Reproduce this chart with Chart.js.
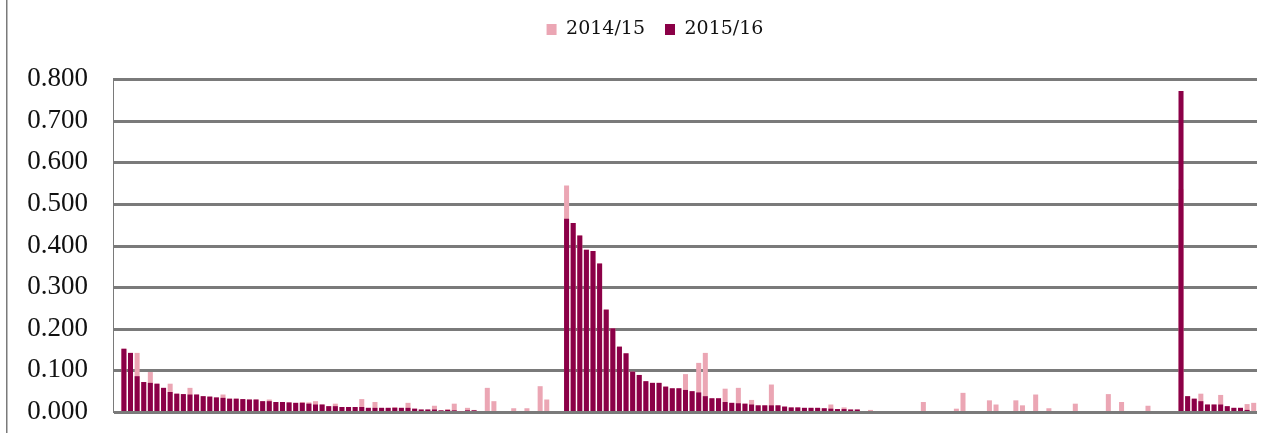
<!DOCTYPE html>
<html>
<head>
<meta charset="utf-8">
<script src="https://cdn.jsdelivr.net/npm/chart.js@4.4.1/dist/chart.umd.min.js"></script>
<style>
  html, body { margin: 0; padding: 0; background: #fff; overflow: hidden; }
  canvas { display: block; }
</style>
</head>
<body>
<canvas id="chart" width="1281" height="433"></canvas>
<script>
// 2014/15 (light bars, drawn behind)
const values2014 = [
  null, 0.152, 0.142, 0.142, 0.072, 0.096, 0.068, 0.058, 0.068, 0.044,
  0.043, 0.058, 0.042, 0.038, 0.037, 0.035, 0.042, 0.032, 0.032, 0.031,
  0.030, 0.030, 0.026, 0.030, 0.024, 0.024, 0.023, 0.022, 0.024, 0.023,
  0.026, 0.018, 0.014, 0.020, 0.012, 0.012, 0.012, 0.031, 0.010, 0.024,
  0.010, 0.010, 0.012, 0.010, 0.022, 0.008, 0.006, 0.006, 0.015, 0.004,
  0.007, 0.020, 0.002, 0.010, 0.005, null, 0.058, 0.026, null, null,
  0.009, null, 0.009, null, 0.062, 0.030, null, null, 0.544, 0.454,
  0.424, 0.390, 0.387, 0.357, 0.246, 0.201, 0.157, 0.141, 0.097, 0.089,
  0.074, 0.070, 0.070, 0.061, 0.057, 0.057, 0.091, 0.050, 0.118, 0.142,
  0.033, 0.033, 0.056, 0.022, 0.058, 0.020, 0.029, 0.016, 0.016, 0.066,
  0.016, 0.013, 0.011, 0.011, 0.010, 0.010, 0.010, 0.009, 0.018, 0.007,
  0.011, 0.006, 0.006, null, 0.005, null, null, null, null, null,
  null, null, 0.024, null, null, null, null, 0.008, 0.046, null,
  null, null, 0.028, 0.018, null, null, 0.028, 0.016, null, 0.042,
  null, 0.009, null, null, null, 0.020, null, null, null, null,
  0.043, null, 0.024, null, null, null, 0.015, null, null, null,
  null, 0.535, 0.038, 0.032, 0.044, 0.018, 0.018, 0.041, 0.014, 0.010,
  0.010, 0.019, 0.022
];

// 2015/16 (dark bars, drawn in front)
const values2015 = [
  null, 0.152, 0.142, 0.086, 0.072, 0.070, 0.068, 0.058, 0.048, 0.044,
  0.043, 0.042, 0.042, 0.038, 0.037, 0.035, 0.034, 0.032, 0.032, 0.031,
  0.030, 0.030, 0.026, 0.026, 0.024, 0.024, 0.023, 0.022, 0.022, 0.020,
  0.018, 0.018, 0.014, 0.014, 0.012, 0.012, 0.012, 0.012, 0.010, 0.010,
  0.010, 0.010, 0.010, 0.010, 0.010, 0.008, 0.006, 0.006, 0.006, 0.004,
  0.005, 0.004, 0.002, 0.004, 0.004, null, null, null, null, null,
  null, null, null, null, null, null, null, null, 0.464, 0.454,
  0.424, 0.390, 0.387, 0.357, 0.246, 0.201, 0.157, 0.141, 0.097, 0.089,
  0.074, 0.070, 0.070, 0.061, 0.057, 0.057, 0.053, 0.050, 0.047, 0.038,
  0.033, 0.033, 0.024, 0.022, 0.021, 0.020, 0.018, 0.016, 0.016, 0.016,
  0.016, 0.013, 0.011, 0.011, 0.010, 0.010, 0.010, 0.009, 0.008, 0.007,
  0.007, 0.006, 0.006, null, null, null, null, null, null, null,
  null, null, null, null, null, null, null, null, null, null,
  null, null, null, null, null, null, null, null, null, null,
  null, null, null, null, null, null, null, null, null, null,
  null, null, null, null, null, null, null, null, null, null,
  null, 0.771, 0.038, 0.032, 0.026, 0.018, 0.018, 0.018, 0.014, 0.010,
  0.010, 0.005, null
];

// no category labels are shown, just one slot per bar
const categories = values2015.map((v, i) => String(i + 1));
const yMin = 0;
const yMax = 0.8;
const yStep = 0.1;

const gridGray = '#7a7a7a';

// frame line on the far left + horizontal grid lines, painted before anything else
const backdrop = {
  id: 'backdrop',
  beforeDraw(chart) {
    const { ctx, chartArea, scales } = chart;
    const y = scales.y;
    ctx.save();
    ctx.fillStyle = gridGray;
    ctx.fillRect(6, 0, 1.5, chart.height);
    for (let v = yMin; v <= yMax + 1e-9; v += yStep) {
      const py = Math.round(y.getPixelForValue(v));
      ctx.fillRect(chartArea.left, py - 1, chartArea.right - chartArea.left, 3);
    }
    ctx.fillRect(chartArea.left - 1, chartArea.top - 1, 1, chartArea.bottom - chartArea.top + 2);
    ctx.restore();
  }
};

// extra room under the legend, and nudge it a bit to the right
const legendGap = {
  id: 'legendGap',
  beforeInit(chart) {
    const fit = chart.legend.fit;
    chart.legend.fit = function () {
      fit.bind(chart.legend)();
      this.height += 30;
    };
  },
  afterLayout(chart) {
    chart.legend.left += 13;
    chart.legend.right += 13;
  }
};

const ctx = document.getElementById('chart').getContext('2d');
new Chart(ctx, {
  type: 'bar',
  data: {
    labels: categories,
    datasets: [
      {
        label: '2014/15',
        data: values2014,
        backgroundColor: '#eba6b4',
        order: 2,
        grouped: false,
        categoryPercentage: 1,
        barPercentage: 0.76
      },
      {
        label: '2015/16',
        data: values2015,
        backgroundColor: '#8b0047',
        order: 1,
        grouped: false,
        categoryPercentage: 1,
        barPercentage: 0.76
      }
    ]
  },
  options: {
    responsive: false,
    animation: false,
    layout: { padding: { left: 27, right: 24, top: 0, bottom: 21 } },
    plugins: {
      tooltip: { enabled: false },
      legend: {
        position: 'top',
        reverse: true,
        labels: {
          boxWidth: 10,
          boxHeight: 11,
          padding: 20,
          color: '#111',
          font: { family: "'DejaVu Serif', serif", size: 19 }
        }
      }
    },
    scales: {
      x: {
        afterFit(axis) { axis.height = 0; },
        ticks: { display: false },
        grid: { display: false, drawTicks: false },
        border: { display: false }
      },
      y: {
        min: yMin,
        max: yMax,
        // tick padding also pads the axis ends, which would shrink the plot
        afterFit(axis) {
          axis.width = 87;
          axis.paddingTop = 0;
          axis.paddingBottom = 0;
        },
        ticks: {
          stepSize: yStep,
          padding: 26,
          color: '#111',
          font: { family: "'Liberation Serif', serif", size: 27 },
          callback: v => Number(v).toFixed(3)
        },
        grid: { color: gridGray, lineWidth: 2, drawTicks: false },
        border: { display: false }
      }
    }
  },
  plugins: [backdrop, legendGap]
});
</script>
</body>
</html>
